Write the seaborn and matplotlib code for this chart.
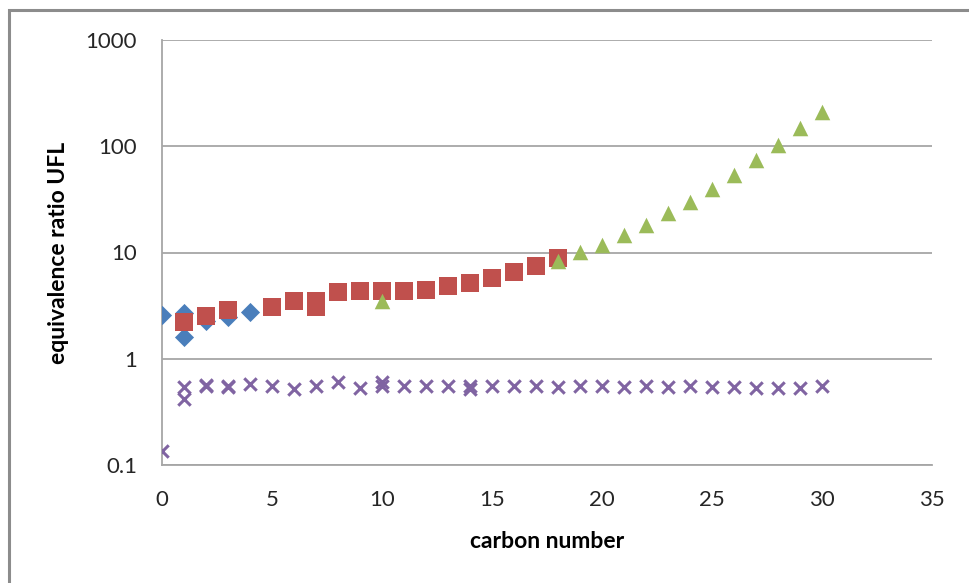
import matplotlib
matplotlib.use("Agg")
import matplotlib.pyplot as plt
import matplotlib.patches as mpatches
import seaborn as sns
import pandas as pd

# series
diamond_x = [0, 1, 1, 2, 3, 4]
diamond_y = [2.6, 2.7, 1.6, 2.25, 2.45, 2.75]

square_x = [1, 2, 3, 5, 6, 7, 7, 8, 9, 10, 11, 12, 13, 14, 15, 16, 17, 18]
square_y = [2.2, 2.55, 2.9, 3.1, 3.5, 3.5, 3.05, 4.25, 4.3, 4.3, 4.3, 4.45,
            4.8, 5.2, 5.8, 6.5, 7.5, 8.9]

triangle_x = [10, 18, 19, 20, 21, 22, 23, 24, 25, 26, 27, 28, 29, 30]
triangle_y = [3.5, 8.3, 10.2, 11.7, 14.7, 18.2, 23.5, 30, 40, 54, 75, 103, 147, 211]

cross_x = [0, 1, 1, 2, 2, 3, 3, 4, 5, 6, 7, 8, 9, 10, 10, 11, 12, 13, 14, 14,
           15, 16, 17, 18, 19, 20, 21, 22, 23, 24, 25, 26, 27, 28, 29, 30]
cross_y = [0.136, 0.54, 0.42, 0.55, 0.57, 0.54, 0.56, 0.58, 0.56, 0.52, 0.56,
           0.61, 0.53, 0.6, 0.55, 0.55, 0.55, 0.55, 0.55, 0.52,
           0.55, 0.55, 0.55, 0.54, 0.55, 0.55, 0.54, 0.55, 0.54, 0.55, 0.54,
           0.54, 0.53, 0.53, 0.53, 0.55]

y_ticks = [0.1, 1, 10, 100, 1000]
y_tick_labels = ["0.1", "1", "10", "100", "1000"]
x_ticks = [0, 5, 10, 15, 20, 25, 30, 35]

df = pd.concat([
    pd.DataFrame({"x": diamond_x, "y": diamond_y, "s": "diamond"}),
    pd.DataFrame({"x": square_x, "y": square_y, "s": "square"}),
    pd.DataFrame({"x": triangle_x, "y": triangle_y, "s": "triangle"}),
    pd.DataFrame({"x": cross_x, "y": cross_y, "s": "cross"}),
], ignore_index=True)

sns.set_theme(style="white")
plt.rcParams["font.family"] = ["Lato", "DejaVu Sans"]

fig = plt.figure(figsize=(9.7, 5.83), dpi=100)
ax = fig.add_axes([162 / 970, 1 - 465 / 583, 770 / 970, 425 / 583])

# outer chart frame (only top and left visible in the reference)
fig.patches.append(mpatches.Rectangle((9 / 970, -0.1), 1.2, 1.1 - 10 / 583,
                                      transform=fig.transFigure, fill=False,
                                      edgecolor="#8c8c8c", linewidth=2.2, zorder=0))

palette = {"diamond": "#4A7EBB", "square": "#C0504D",
           "triangle": "#9BBB59", "cross": "#8064A2"}

sub = df[df.s == "cross"]
sns.scatterplot(data=sub, x="x", y="y", marker="x", color=palette["cross"],
                s=80, linewidth=2.2, ax=ax, legend=False, zorder=3)
sub = df[df.s == "diamond"]
sns.scatterplot(data=sub, x="x", y="y", marker="D", color=palette["diamond"],
                s=95, linewidth=0, ax=ax, legend=False, zorder=3)
sub = df[df.s == "square"]
sns.scatterplot(data=sub, x="x", y="y", marker="s", color=palette["square"],
                s=150, linewidth=0, ax=ax, legend=False, zorder=3)
sub = df[df.s == "triangle"]
sns.scatterplot(data=sub, x="x", y="y", marker="^", color=palette["triangle"],
                s=125, linewidth=0, ax=ax, legend=False, zorder=4)

ax.set_yscale("log")
ax.set_ylim(0.1, 1000)
ax.set_xlim(0, 35)
ax.set_yticks(y_ticks)
ax.set_yticklabels(y_tick_labels)
ax.set_xticks(x_ticks)
ax.minorticks_off()
ax.tick_params(axis="both", length=0, labelsize=16, colors="#262626")
ax.tick_params(axis="y", pad=18)
ax.tick_params(axis="x", pad=18)

ax.yaxis.grid(True, color="#a6a6a6", linewidth=1.3)
ax.set_axisbelow(True)
for side in ["top", "right"]:
    ax.spines[side].set_visible(False)
for side in ["left", "bottom"]:
    ax.spines[side].set_color("#a6a6a6")
    ax.spines[side].set_linewidth(1.3)

ax.set_xlabel("carbon number", fontsize=16.5, fontweight="bold", color="black")
ax.set_ylabel("equivalence ratio UFL", fontsize=16.5, fontweight="bold", color="black")
ax.xaxis.set_label_coords(0.5, -(531 - 465) / 425, transform=ax.transAxes)
ax.yaxis.set_label_coords(-(162 - 69) / 770, 0.5, transform=ax.transAxes)

fig.savefig("out.png", dpi=100)
